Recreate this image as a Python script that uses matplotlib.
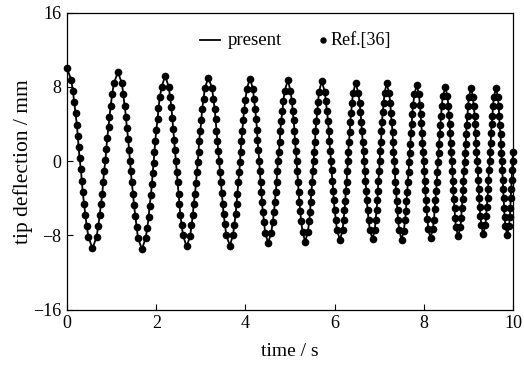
import matplotlib
matplotlib.use("Agg")
import matplotlib.pyplot as plt

plt.rcParams['font.family'] = ['Liberation Serif', 'DejaVu Serif']

# tip deflection (time in s, deflection in mm)
# one row per half swing, the present solution and Ref.[36] lie on top of each other
time_s = [
    0.00, 0.09, 0.13, 0.16, 0.19, 0.22, 0.24, 0.26, 0.28, 0.31, 0.33, 0.35, 0.38, 0.41, 0.44, 0.48,
    0.57, 0.66, 0.70, 0.73, 0.76, 0.79, 0.81, 0.83, 0.86, 0.88, 0.90, 0.93, 0.95, 0.98, 1.01, 1.05,
    1.14, 1.23, 1.26, 1.29, 1.32, 1.34, 1.37, 1.39, 1.41, 1.43, 1.45, 1.48, 1.50, 1.53, 1.56, 1.59,
    1.68, 1.76, 1.80, 1.83, 1.85, 1.88, 1.90, 1.92, 1.94, 1.96, 1.98, 2.00, 2.03, 2.05, 2.08, 2.12,
    2.20, 2.28, 2.31, 2.34, 2.36, 2.38, 2.40, 2.42, 2.44, 2.46, 2.48, 2.50, 2.52, 2.54, 2.57, 2.60,
    2.68, 2.76, 2.79, 2.82, 2.84, 2.87, 2.89, 2.91, 2.93, 2.95, 2.96, 2.99, 3.01, 3.03, 3.06, 3.09,
    3.17, 3.25, 3.28, 3.31, 3.33, 3.35, 3.37, 3.39, 3.41, 3.43, 3.45, 3.47, 3.49, 3.51, 3.54, 3.57,
    3.65, 3.72, 3.75, 3.78, 3.80, 3.82, 3.84, 3.86, 3.88, 3.89, 3.91, 3.93, 3.95, 3.97, 4.00, 4.03,
    4.10, 4.17, 4.19, 4.22, 4.24, 4.26, 4.27, 4.29, 4.31, 4.32, 4.34, 4.36, 4.37, 4.39, 4.42, 4.44,
    4.51, 4.58, 4.61, 4.64, 4.66, 4.68, 4.70, 4.71, 4.73, 4.75, 4.77, 4.78, 4.80, 4.83, 4.85, 4.88,
    4.95, 5.01, 5.04, 5.06, 5.08, 5.10, 5.11, 5.13, 5.15, 5.16, 5.18, 5.19, 5.21, 5.23, 5.25, 5.28,
    5.34, 5.40, 5.43, 5.45, 5.46, 5.48, 5.50, 5.51, 5.53, 5.54, 5.56, 5.57, 5.59, 5.61, 5.63, 5.65,
    5.71, 5.78, 5.80, 5.83, 5.85, 5.87, 5.88, 5.90, 5.92, 5.93, 5.95, 5.97, 5.98, 6.00, 6.03, 6.05,
    6.12, 6.18, 6.20, 6.22, 6.24, 6.25, 6.27, 6.28, 6.30, 6.31, 6.32, 6.34, 6.35, 6.37, 6.39, 6.41,
    6.47, 6.53, 6.56, 6.58, 6.60, 6.61, 6.63, 6.65, 6.66, 6.68, 6.69, 6.71, 6.72, 6.74, 6.76, 6.79,
    6.85, 6.90, 6.92, 6.94, 6.96, 6.97, 6.98, 7.00, 7.01, 7.02, 7.04, 7.05, 7.06, 7.08, 7.10, 7.12,
    7.17, 7.22, 7.25, 7.26, 7.28, 7.30, 7.31, 7.32, 7.34, 7.35, 7.36, 7.38, 7.39, 7.41, 7.42, 7.45,
    7.50, 7.55, 7.58, 7.60, 7.61, 7.63, 7.64, 7.66, 7.67, 7.68, 7.70, 7.71, 7.73, 7.74, 7.76, 7.79,
    7.84, 7.89, 7.91, 7.93, 7.94, 7.96, 7.97, 7.98, 8.00, 8.01, 8.02, 8.03, 8.05, 8.06, 8.08, 8.10,
    8.15, 8.20, 8.23, 8.24, 8.26, 8.28, 8.29, 8.30, 8.32, 8.33, 8.34, 8.36, 8.37, 8.39, 8.40, 8.43,
    8.48, 8.53, 8.55, 8.56, 8.58, 8.59, 8.60, 8.61, 8.63, 8.64, 8.65, 8.66, 8.67, 8.69, 8.70, 8.72,
    8.77, 8.82, 8.84, 8.85, 8.87, 8.88, 8.89, 8.90, 8.92, 8.93, 8.94, 8.95, 8.96, 8.98, 8.99, 9.01,
    9.06, 9.10, 9.12, 9.14, 9.15, 9.16, 9.17, 9.18, 9.20, 9.21, 9.22, 9.23, 9.24, 9.25, 9.27, 9.29,
    9.33, 9.38, 9.40, 9.41, 9.43, 9.44, 9.45, 9.46, 9.48, 9.49, 9.50, 9.51, 9.52, 9.54, 9.55, 9.57,
    9.62, 9.66, 9.68, 9.69, 9.70, 9.72, 9.73, 9.74, 9.75, 9.76, 9.77, 9.78, 9.79, 9.80, 9.81, 9.83,
    9.87, 9.91, 9.93, 9.94, 9.95, 9.96, 9.97, 9.98, 9.99, 10.00,
]

deflection_mm = [
    10.0, 8.8, 7.6, 6.4, 5.2, 3.9, 2.7, 1.5, 0.3, -0.9, -2.1, -3.3, -4.6, -5.8, -7.0, -8.2,
    -9.4, -8.2, -7.0, -5.8, -4.6, -3.5, -2.3, -1.1, 0.1, 1.3, 2.5, 3.7, 4.8, 6.0, 7.2, 8.4,
    9.6, 8.4, 7.2, 6.0, 4.8, 3.6, 2.4, 1.2, 0.0, -1.1, -2.3, -3.5, -4.7, -5.9, -7.1, -8.3,
    -9.5, -8.3, -7.2, -6.0, -4.8, -3.7, -2.5, -1.3, -0.2, 1.0, 2.2, 3.4, 4.5, 5.7, 6.9, 8.0,
    9.2, 8.0, 6.9, 5.8, 4.6, 3.5, 2.3, 1.2, 0.0, -1.2, -2.3, -3.5, -4.6, -5.8, -6.9, -8.0,
    -9.2, -8.1, -6.9, -5.8, -4.6, -3.5, -2.4, -1.2, -0.1, 1.0, 2.2, 3.3, 4.4, 5.6, 6.7, 7.9,
    9.0, 7.9, 6.7, 5.6, 4.5, 3.3, 2.2, 1.1, 0.0, -1.2, -2.3, -3.4, -4.6, -5.7, -6.8, -8.0,
    -9.1, -8.0, -6.9, -5.7, -4.6, -3.5, -2.3, -1.2, -0.1, 1.0, 2.2, 3.3, 4.4, 5.5, 6.6, 7.8,
    8.9, 7.8, 6.7, 5.6, 4.5, 3.4, 2.3, 1.2, 0.0, -1.1, -2.2, -3.3, -4.4, -5.5, -6.6, -7.7,
    -8.8, -7.7, -6.6, -5.5, -4.4, -3.3, -2.2, -1.1, 0.0, 1.0, 2.1, 3.2, 4.3, 5.4, 6.5, 7.6,
    8.7, 7.6, 6.5, 5.4, 4.4, 3.3, 2.2, 1.1, 0.0, -1.1, -2.2, -3.3, -4.4, -5.4, -6.5, -7.6,
    -8.7, -7.6, -6.5, -5.5, -4.4, -3.3, -2.2, -1.1, 0.0, 1.0, 2.1, 3.2, 4.3, 5.4, 6.4, 7.5,
    8.6, 7.5, 6.5, 5.4, 4.3, 3.3, 2.2, 1.1, 0.0, -1.0, -2.1, -3.2, -4.2, -5.3, -6.4, -7.4,
    -8.5, -7.4, -6.4, -5.3, -4.3, -3.2, -2.2, -1.1, 0.0, 1.0, 2.1, 3.1, 4.2, 5.2, 6.3, 7.3,
    8.4, 7.4, 6.3, 5.3, 4.2, 3.2, 2.1, 1.1, 0.0, -1.1, -2.1, -3.2, -4.2, -5.3, -6.3, -7.4,
    -8.4, -7.4, -6.3, -5.3, -4.2, -3.2, -2.1, -1.1, 0.0, 1.1, 2.1, 3.2, 4.2, 5.3, 6.3, 7.4,
    8.4, 7.3, 6.3, 5.2, 4.2, 3.1, 2.1, 1.0, 0.0, -1.1, -2.2, -3.2, -4.3, -5.3, -6.4, -7.4,
    -8.5, -7.5, -6.4, -5.4, -4.3, -3.3, -2.2, -1.2, -0.1, 0.9, 1.9, 3.0, 4.0, 5.1, 6.1, 7.2,
    8.2, 7.2, 6.1, 5.1, 4.1, 3.0, 2.0, 1.0, 0.0, -1.1, -2.1, -3.1, -4.2, -5.2, -6.2, -7.3,
    -8.3, -7.3, -6.3, -5.2, -4.2, -3.2, -2.2, -1.2, -0.1, 0.9, 1.9, 2.9, 3.9, 4.9, 6.0, 7.0,
    8.0, 7.0, 6.0, 5.0, 4.0, 3.0, 2.0, 1.0, 0.0, -1.1, -2.1, -3.1, -4.1, -5.1, -6.1, -7.1,
    -8.1, -7.1, -6.1, -5.1, -4.1, -3.1, -2.1, -1.1, -0.1, 0.9, 1.9, 2.9, 3.9, 4.9, 5.9, 6.9,
    7.9, 6.9, 5.9, 4.9, 4.0, 3.0, 2.0, 1.0, 0.0, -1.0, -2.0, -3.0, -4.0, -4.9, -5.9, -6.9,
    -7.9, -6.9, -5.9, -4.9, -4.0, -3.0, -2.0, -1.0, 0.0, 1.0, 2.0, 3.0, 4.0, 4.9, 5.9, 6.9,
    7.9, 6.9, 5.9, 4.9, 3.9, 2.9, 1.9, 0.9, 0.0, -1.0, -2.0, -3.0, -4.0, -5.0, -6.0, -7.0,
    -8.0, -7.0, -6.0, -5.0, -4.0, -3.0, -2.0, -1.0, 0.0, 1.0,
]

x_ticks = [0, 2, 4, 6, 8, 10]
y_ticks = [-16, -8, 0, 8, 16]

fig = plt.figure(figsize=(5.24, 3.65), dpi=100)
ax = fig.add_axes([0.128, 0.152, 0.851, 0.813])

ax.plot(time_s, deflection_mm, color='black', lw=1.3)
ax.plot(time_s, deflection_mm, ls='none', marker='o', ms=4.5, color='black',
        clip_on=False)

ax.set_xlim(0, 10)
ax.set_ylim(-16, 16)
ax.set_xticks(x_ticks)
ax.set_yticks(y_ticks)
ax.tick_params(direction='in', length=4.5, width=0.8, labelsize=13, pad=4,
               colors='black')
ax.set_xlabel('time / s', fontsize=14, labelpad=8)
ax.set_ylabel('tip deflection / mm', fontsize=15.5, labelpad=0)
for sp in ax.spines.values():
    sp.set_linewidth(0.9)

# legend drawn by hand: short line, then a dot that sits close to its text
tr = ax.transAxes
ax.plot([0.298, 0.343], [0.908, 0.908], color='black', lw=1.3, transform=tr)
ax.text(0.361, 0.908, 'present', transform=tr, fontsize=13.5, va='center', ha='left')
ax.plot([0.574], [0.908], ls='none', marker='o', ms=3.6, color='black', transform=tr)
ax.text(0.590, 0.908, 'Ref.[36]', transform=tr, fontsize=13, va='center', ha='left')

fig.savefig('out.png', dpi=100)
